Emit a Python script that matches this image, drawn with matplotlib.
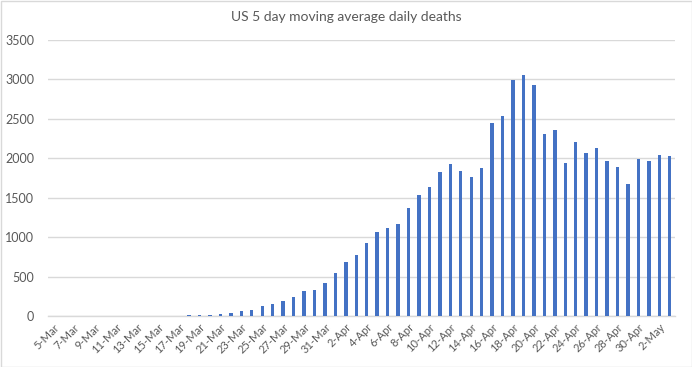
import matplotlib
matplotlib.use("Agg")
import matplotlib.pyplot as plt
import numpy as np
import datetime as dt

plt.rcParams['font.family'] = ['Lato', 'DejaVu Sans']

start = dt.date(2020, 3, 5)
dates = [start + dt.timedelta(days=i) for i in range(60)]
labels = [f"{d.day}-{d.strftime('%b')}" for d in dates]

deaths = [1, 1, 1, 1, 1, 2, 2, 2, 2, 2, 3, 3, 3,           # 5-Mar .. 17-Mar
          13, 13, 13, 25, 38, 63, 76, 127, 152, 190, 240,   # 18-Mar .. 28-Mar
          316, 329, 418, 544,                               # 29-Mar .. 1-Apr
          684, 772, 924, 1063, 1114, 1165, 1367, 1532, 1633, 1823,  # 2-Apr .. 11-Apr
          1924, 1836, 1760, 1874, 2443, 2532, 2988, 3051, 2924, 2304,  # 12-Apr .. 21-Apr
          2355, 1937, 2203, 2064, 2127, 1962, 1886, 1671, 1988,  # 22-Apr .. 30-Apr
          1962, 2038, 2026]                                 # 1-May .. 3-May

title = "US 5 day moving average daily deaths"
yticks = [0, 500, 1000, 1500, 2000, 2500, 3000, 3500]

fig = plt.figure(figsize=(6.92, 3.67), dpi=100)
ax = fig.add_axes([48/692, 1 - 316/367, (675-48)/692, (316-40)/367])

x = np.arange(len(deaths))
ax.bar(x, deaths, width=0.33, color='#4472C4', zorder=3)

ax.set_xlim(-0.5, len(deaths) - 0.5)
ax.set_ylim(0, 3500)
ax.set_yticks(yticks)
ax.set_yticklabels([str(v) for v in yticks], fontsize=9, color='#595959')
ax.yaxis.grid(True, color='#D9D9D9', linewidth=1.0, zorder=0)
ax.set_axisbelow(True)

ax.set_xticks(x[::2])
ax.set_xticklabels(labels[::2], rotation=45, ha='right', rotation_mode='anchor',
                   fontsize=8, color='#595959')
ax.tick_params(axis='both', length=0, pad=4)
ax.tick_params(axis='y', pad=10)

for s in ['top', 'right', 'left']:
    ax.spines[s].set_visible(False)
ax.spines['bottom'].set_color('#D9D9D9')
ax.spines['bottom'].set_linewidth(1.0)

fig.text(346/692, 1 - 17/367, title, ha='center', va='center', fontsize=10, color='#595959')

border = plt.Rectangle((0.5/692, 0.5/367), 1 - 1/692, 1 - 1/367, transform=fig.transFigure,
                       fill=False, edgecolor='#D9D9D9', linewidth=1.0)
fig.patches.append(border)

fig.savefig('out.png', dpi=100)
